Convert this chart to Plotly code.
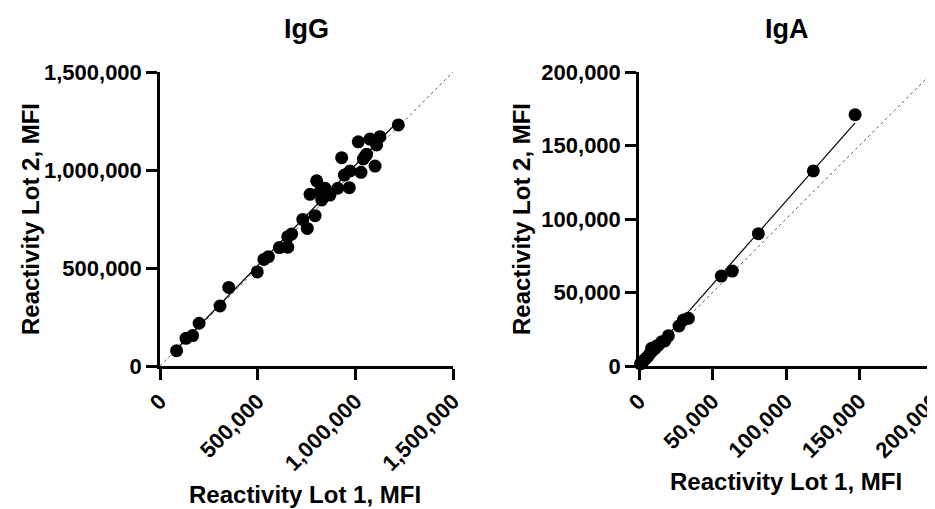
import numpy as np
import plotly.graph_objects as go

# IgG data (Lot 1 vs Lot 2 MFI)
igg_lot1 = [85000, 133000, 167000, 200000, 307000, 352000, 498000, 532000, 555000, 611000,
            654000, 654000, 674000, 731000, 754000, 794000, 768000, 802000, 828000, 845000,
            870000, 910000, 969000, 930000, 944000, 973000, 1029000, 1041000, 1058000, 1101000,
            1015000, 1075000, 1109000, 1126000, 1220000, 820000, 1050000]
igg_lot2 = [78000, 141000, 155000, 218000, 306000, 401000, 480000, 544000, 558000, 604000,
            606000, 660000, 673000, 748000, 702000, 767000, 876000, 945000, 847000, 907000,
            872000, 907000, 910000, 1063000, 974000, 995000, 988000, 1056000, 1080000, 1020000,
            1144000, 1158000, 1128000, 1170000, 1230000, 890000, 1070000]

# IgA data
iga_lot1 = [1000, 2000, 3000, 4500, 6000, 7500, 8600, 9000, 11000, 12000, 13000, 15500, 17500,
            20000, 27200, 30200, 33600, 56000, 63500, 81200, 118600, 147000]
iga_lot2 = [1500, 2500, 3500, 5000, 6500, 8500, 12000, 10500, 12000, 13600, 14000, 16500, 17000,
            20500, 27200, 31300, 32400, 61200, 64600, 90000, 132700, 171000]

x_ticks_igg = [0, 500000, 1000000, 1500000]
x_ticks_iga = [0, 50000, 100000, 150000, 200000]

FONT = "Liberation Sans, Arial, sans-serif"

fig = go.Figure()

def add_panel(x, y, xa, ya, lim):
    x = np.array(x, float); y = np.array(y, float)
    # identity line
    fig.add_trace(go.Scatter(x=[0, lim], y=[0, lim], mode="lines",
                             line=dict(color="#666666", width=1, dash="dot"),
                             xaxis=xa, yaxis=ya, showlegend=False, hoverinfo="skip"))
    # linear regression
    k, b = np.polyfit(x, y, 1)
    xs = np.array([x.min(), x.max()])
    fig.add_trace(go.Scatter(x=xs, y=k * xs + b, mode="lines",
                             line=dict(color="black", width=1.2),
                             xaxis=xa, yaxis=ya, showlegend=False, hoverinfo="skip"))
    fig.add_trace(go.Scatter(x=x, y=y, mode="markers",
                             marker=dict(color="black", size=13),
                             xaxis=xa, yaxis=ya, showlegend=False, cliponaxis=False))

add_panel(igg_lot1, igg_lot2, "x", "y", 1500000)
add_panel(iga_lot1, iga_lot2, "x2", "y2", 200000)

# page body has an 8px margin; figure is placed at (8, 8) in the window
OFF = 8
W = 935 - OFF
H = 509 - OFF

def px(x):
    return (x - OFF) / W

def py(y):
    return 1 - (y - OFF) / H

ydom = [py(366), py(72)]

axis_common = dict(showline=True, linecolor="black", linewidth=2.5, ticks="outside",
                   ticklen=11, tickwidth=2.5, tickcolor="black", showgrid=False, zeroline=False,
                   automargin=False, tickformat=",", ticklabeloverflow="allow",
                   tickfont=dict(family=FONT, size=22, color="black", weight="bold"))

fig.update_layout(
    template="none",
    width=W, height=H, margin=dict(l=0, r=0, t=0, b=0),
    plot_bgcolor="white", paper_bgcolor="white",
    xaxis=dict(domain=[px(160), px(453)], range=[0, 1500000], tickvals=x_ticks_igg,
               tickangle=-45, anchor="y", **axis_common),
    yaxis=dict(domain=ydom, range=[0, 1500000], tickvals=x_ticks_igg, anchor="x", **axis_common),
    xaxis2=dict(domain=[px(639), px(933)], range=[0, 200000], tickvals=x_ticks_iga,
                tickangle=-45, anchor="y2", **axis_common),
    yaxis2=dict(domain=ydom, range=[0, 200000], tickvals=x_ticks_iga, anchor="x2", **axis_common),
)

def ann(text, x, y, size, angle=0):
    fig.add_annotation(text=text, x=px(x), y=py(y), xref="paper", yref="paper",
                       showarrow=False, textangle=angle, xanchor="center", yanchor="middle",
                       font=dict(family=FONT, size=size, color="black", weight="bold"))

ann("IgG", 306, 29, 27)
ann("IgA", 787, 29, 27)
ann("Reactivity Lot 2, MFI", 30, 219, 24, -90)
ann("Reactivity Lot 2, MFI", 521, 219, 24, -90)
ann("Reactivity Lot 1, MFI", 305, 494, 24)
ann("Reactivity Lot 1, MFI", 786, 481, 24)

fig.write_html("out.html")
